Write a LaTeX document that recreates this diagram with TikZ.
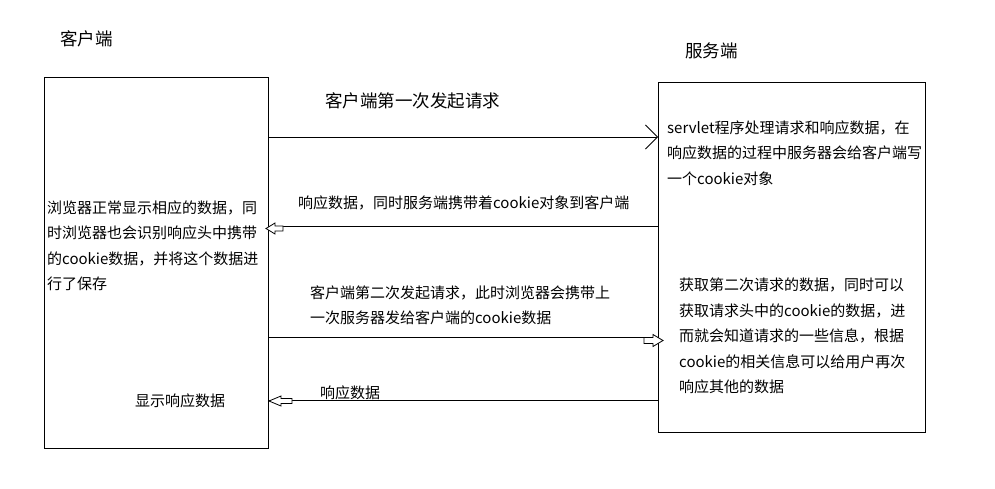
\documentclass[tikz,border=0pt]{standalone}
\usepackage{fontspec}
\setmainfont{Noto Sans CJK SC}
\usetikzlibrary{arrows.meta}
\begin{document}
\begin{tikzpicture}[x=1pt,y=-1pt,
  box/.style={draw, line width=1pt, inner sep=0pt, anchor=north west},
  body/.style={font=\fontsize{15}{25.5}\selectfont, align=left, inner sep=0pt, anchor=west},
  lbl/.style={font=\fontsize{17.5}{20}\selectfont, inner sep=0pt, anchor=west},
  conn/.style={line width=0.9pt},
  hollow/.style={draw, line width=0.8pt, fill=white}]
\useasboundingbox (0,0) rectangle (995,488);
\node[box, minimum width=224pt, minimum height=371pt] (L) at (44,77) {};
\node[box, minimum width=267pt, minimum height=350pt] (R) at (658,82) {};
\node[lbl] (cl) at (60,39) {客户端};
\node[lbl] (sl) at (685,51) {服务端};
\node[lbl] (t1) at (325,101) {客户端第一次发起请求};
\node[body] (lt) at (47,246) {浏览器正常显示相应的数据，同\\时浏览器也会识别响应头中携带\\的cookie数据，并将这个数据进\\行了保存};
\node[body] (rt) at (667,153) {servlet程序处理请求和响应数据，在\\响应数据的过程中服务器会给客户端写\\一个cookie对象};
\node[body] (rb) at (679,336) {获取第二次请求的数据，同时可以\\获取请求头中的cookie的数据，进\\而就会知道请求的一些信息，根据\\cookie的相关信息可以给用户再次\\响应其他的数据};
\node[body] (a2) at (298,203) {响应数据，同时服务端携带着cookie对象到客户端};
\node[body] (a3) at (310,305.5) {客户端第二次发起请求，此时浏览器会携带上\\一次服务器发给客户端的cookie数据};
\node[body] (a4) at (320,393) {响应数据};
\node[body] (sd) at (135,401) {显示响应数据};
\coordinate (y1) at (0,137);
\coordinate (y2) at (0,226);
\coordinate (y3) at (0,337.5);
\coordinate (y4) at (0,400);
\draw[conn, -{Straight Barb[length=12pt,width=24pt,line width=0.8pt]}] (L.east |- y1) -- (R.west |- y1);
\draw[conn] (R.west |- y2) -- (L.east |- y2);
\draw[hollow, shift={(266,228.5)}] (0,0) -- (9,-5.5) -- (9,-2.5) -- (17,-2.5) -- (17,2.5) -- (9,2.5) -- (9,5.5) -- cycle;
\draw[conn] (L.east |- y3) -- (R.west |- y3);
\draw[hollow, shift={(663,340.5)}] (0,0) -- (-10,-6) -- (-10,-3) -- (-19,-3) -- (-19,3) -- (-10,3) -- (-10,6) -- cycle;
\draw[conn] (R.west |- y4) -- (L.east |- y4);
\draw[hollow, shift={(269,401)}] (0,0) -- (12,-5) -- (12,-2.5) -- (23,-2.5) -- (23,2.5) -- (12,2.5) -- (12,5) -- cycle;
\end{tikzpicture}
\end{document}
